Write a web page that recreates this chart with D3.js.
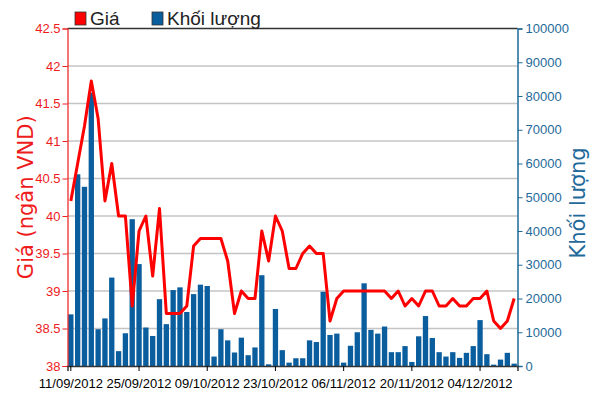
<!DOCTYPE html>
<html>
<head>
<meta charset="utf-8">
<script src="https://cdn.jsdelivr.net/npm/d3@7"></script>
<style>
  body { margin: 0; background: #fff; }
  svg text { font-family: "Liberation Sans Narrow", "Liberation Sans", sans-serif; }
</style>
</head>
<body>
<div id="mychart"></div>
<script>
// trading days 11/09/2012 -> 11/12/2012 (weekdays only)
var dates = d3.timeDay
  .range(new Date(2012, 8, 11), new Date(2012, 11, 12))
  .filter(function (d) { return d.getDay() % 6 !== 0; });

// closing price (thousand VND)
var price = [
  40.2, 40.7, 41.2, 41.8, 41.3, 40.2, 40.7, 40.0, 40.0, 38.8,
  39.8, 40.0, 39.2, 40.1, 38.7, 38.7, 38.7, 38.8, 39.6, 39.7,
  39.7, 39.7, 39.7, 39.4, 38.7, 39.0, 38.9, 38.9, 39.8, 39.4,
  40.0, 39.8, 39.3, 39.3, 39.5, 39.6, 39.5, 39.5, 38.6, 38.9,
  39.0, 39.0, 39.0, 39.0, 39.0, 39.0, 39.0, 38.9, 39.0, 38.8,
  38.9, 38.8, 39.0, 39.0, 38.8, 38.8, 38.9, 38.8, 38.8, 38.9,
  38.9, 39.0, 38.6, 38.5, 38.6, 38.9
];

// volume
var volume = [
  15300, 56800, 53100, 81000, 10900, 14100, 26200, 4400, 9700, 43500,
  30200, 11400, 8900, 19800, 12400, 22500, 23300, 16000, 21300, 24100,
  23700, 2800, 10900, 7600, 4000, 8400, 3200, 5500, 26900, 500,
  16900, 4700, 1000, 2300, 2300, 7600, 7100, 22000, 9200, 9600,
  1000, 6000, 10000, 24500, 10700, 9600, 11700, 4100, 4100, 5900,
  1200, 8800, 14800, 8300, 4100, 2800, 4100, 2400, 3900, 5900,
  13600, 3500, 400, 1900, 3900, 700
];

var priceTicks = [38, 38.5, 39, 39.5, 40, 40.5, 41, 41.5, 42, 42.5];
var volumeTicks = [0, 10000, 20000, 30000, 40000, 50000, 60000, 70000, 80000, 90000, 100000];
var dateTickEvery = 10;

var width = 602;
var height = 395;
var margin = { top: 28.5, right: 84.5, bottom: 29, left: 67.5 };
var red = "#ee1c1c";
var blue = "#0b5e9e";
var axisBlue = "#1f6a9a";

var x = d3
  .scaleBand()
  .domain(d3.range(dates.length))
  .range([margin.left, width - margin.right])
  .paddingInner(0.22)
  .paddingOuter(0.1);

var yPrice = d3
  .scaleLinear()
  .domain([38, 42.5])
  .range([height - margin.bottom, margin.top]);

var yVol = d3
  .scaleLinear()
  .domain([0, 100000])
  .range([height - margin.bottom, margin.top]);

var svg = d3
  .select("#mychart")
  .append("svg")
  .attr("width", width)
  .attr("height", height)
  .attr("viewBox", [0, 0, width, height]);

// gridlines (from price axis)
svg
  .append("g")
  .selectAll("line")
  .data(priceTicks.slice(1, -1))
  .join("line")
  .attr("x1", margin.left)
  .attr("x2", width - margin.right)
  .attr("y1", function (d) { return yPrice(d); })
  .attr("y2", function (d) { return yPrice(d); })
  .attr("stroke", "#c4c4c4")
  .attr("stroke-width", 1.5);

// top frame line
svg
  .append("line")
  .attr("x1", margin.left)
  .attr("x2", width - margin.right)
  .attr("y1", margin.top)
  .attr("y2", margin.top)
  .attr("stroke", "#333")
  .attr("stroke-width", 1.5);

// volume bars
svg
  .append("g")
  .attr("fill", blue)
  .selectAll("rect")
  .data(volume)
  .join("rect")
  .attr("x", function (d, i) { return x(i); })
  .attr("y", function (d) { return yVol(d); })
  .attr("width", x.bandwidth())
  .attr("height", function (d) { return yVol(0) - yVol(d); });

// price line
var line = d3
  .line()
  .x(function (d, i) { return x(i) + x.bandwidth() / 2; })
  .y(function (d) { return yPrice(d); });

svg
  .append("path")
  .datum(price)
  .attr("fill", "none")
  .attr("stroke", "#ff0000")
  .attr("stroke-width", 3)
  .attr("stroke-linejoin", "round")
  .attr("d", line);

// left axis
var gLeft = svg
  .append("g")
  .attr("transform", `translate(${margin.left},0)`)
  .call(d3.axisLeft(yPrice).tickValues(priceTicks).tickSize(5).tickPadding(2).tickFormat(d3.format("")));
gLeft.select(".domain").attr("stroke", red).attr("stroke-width", 1.2);
gLeft.selectAll(".tick line").attr("stroke", red);
gLeft.selectAll(".tick text").attr("fill", red).style("font-size", "13px");

// right axis
var gRight = svg
  .append("g")
  .attr("transform", `translate(${width - margin.right},0)`)
  .call(d3.axisRight(yVol).tickValues(volumeTicks).tickSize(5).tickPadding(3).tickFormat(d3.format("d")));
gRight.select(".domain").attr("stroke", axisBlue).attr("stroke-width", 1.5);
gRight.selectAll(".tick line").attr("stroke", axisBlue);
gRight.selectAll(".tick text").attr("fill", axisBlue).style("font-size", "13px");

// bottom axis
var fmt = d3.timeFormat("%d/%m/%Y");
var gBottom = svg
  .append("g")
  .attr("transform", `translate(0,${height - margin.bottom})`)
  .call(
    d3
      .axisBottom(x)
      .tickValues(d3.range(0, dates.length, dateTickEvery))
      .tickSize(5)
      .tickPadding(8)
      .tickFormat(function (i) { return fmt(dates[i]); })
  );
gBottom.select(".domain").attr("stroke", "#333").attr("stroke-width", 1.5);
gBottom.selectAll(".tick line").attr("stroke", "#000");
gBottom.selectAll(".tick text").attr("fill", "#000").style("font-size", "13px");

// axis titles
svg
  .append("text")
  .attr("transform", `translate(33,${(margin.top + height - margin.bottom) / 2}) rotate(-90)`)
  .attr("text-anchor", "middle")
  .attr("fill", red)
  .style("font-family", "DejaVu Sans, sans-serif")
  .style("font-size", "21px")
  .text("Giá (ngân VND)");

svg
  .append("text")
  .attr("transform", `translate(585,203) rotate(-90)`)
  .attr("text-anchor", "middle")
  .attr("fill", axisBlue)
  .style("font-family", "DejaVu Sans, sans-serif")
  .style("font-size", "21px")
  .text("Khối lượng");

// legend
var legend = [
  { label: "Giá", color: "#ff0000", x: 75 },
  { label: "Khối lượng", color: blue, x: 152 },
];
var lg = svg
  .append("g")
  .selectAll("g")
  .data(legend)
  .join("g")
  .attr("transform", function (d) { return `translate(${d.x},0)`; });
lg.append("rect")
  .attr("x", 0)
  .attr("y", 12)
  .attr("width", 11)
  .attr("height", 13)
  .attr("fill", function (d) { return d.color; })
  .attr("stroke", "#333")
  .attr("stroke-width", 0.8);
lg.append("text")
  .attr("x", 15)
  .attr("y", 25)
  .attr("fill", "#222")
  .style("font-size", "19px")
  .text(function (d) { return d.label; });
</script>
</body>
</html>
